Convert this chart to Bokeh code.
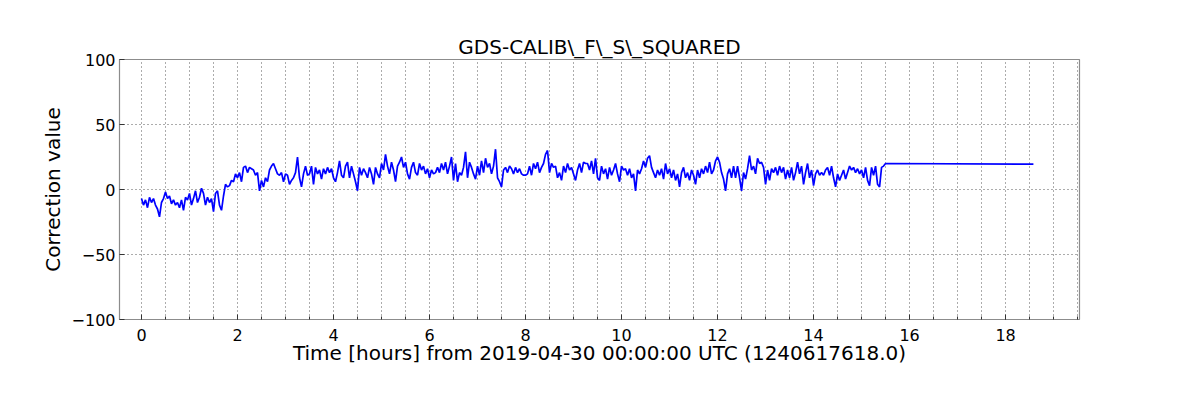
from bokeh.plotting import figure
from bokeh.models import Range1d, FixedTicker, Title
from bokeh.embed import file_html
from bokeh.resources import INLINE

# ---- data ----
title_text = "GDS-CALIB\\_F\\_S\\_SQUARED"
x_label = "Time [hours] from 2019-04-30 00:00:00 UTC (1240617618.0)"
y_label = "Correction value"
sample_step_hours = 1.0 / 24.0
hold_end_hours = 18.58
hold_value = 19.5

seg_0_3 = [-7, -12, -8, -14, -6, -10, -7, -12, -15, -21, -10, -7, -2, -7, -5, -11,
           -8, -12, -10, -14, -8, -16, -6, -8, -3, -12, -7, -1, -10, -6, 1, -3,
           -12, -6, -10, -7, -17, -3, -1, -12, -16, -5, 4, 2, 3, 7, 6, 12,
           9, 13, 6, 17, 18, 13, 17, 16, 15, 11, 13, -1, 7, 2, 9, 6,
           15, 18, 20, 16, 12, 11, 13, 6, 12]
seg_3_6 = [11, 4, 7, 9, 13, 25, 9, 2, 12, 18, 11, 12, 18, 4, 17, 12,
           15, 8, 16, 12, 17, 13, 16, 9, 6, 13, 22, 11, 9, 18, 21, 9,
           18, 12, 6, -1, 17, 11, 16, 13, 9, 17, 12, 4, 17, 12, 9, 20,
           15, 27, 18, 12, 21, 15, 6, 18, 21, 25, 17, 21, 12, 8, 17, 21,
           13, 11, 20, 15, 18, 12, 16, 9, 15, 12, 13]
seg_6_9 = [17, 13, 20, 15, 21, 12, 18, 25, 7, 20, 6, 13, 11, 17, 29, 9,
           21, 17, 12, 8, 18, 11, 22, 13, 24, 17, 20, 12, 18, 31, 9, 6,
           2, 15, 17, 13, 18, 16, 12, 17, 13, 16, 12, 11, 11, 12, 18, 11,
           20, 16, 21, 13, 17, 20, 27, 30, 13, 20, 17, 18, 9, 13, 7, 18,
           13, 20, 15, 17, 12, 7, 15, 20, 13, 21, 20]
seg_9_12 = [20, 15, 22, 12, 24, 9, 7, 18, 12, 16, 8, 17, 11, 15, 20, 12,
            6, 18, 15, 16, 11, 16, 9, 12, -1, 15, 12, 16, 22, 17, 24, 26,
            17, 13, 9, 15, 11, 16, 8, 20, 12, 16, 9, 15, 7, 12, 2, 13,
            17, 9, 13, 7, 15, 11, 4, 15, 9, 16, 12, 18, 13, 21, 12, 15,
            22, 25, 21, 13, 8, -1, 12, 16, 9, 18, 9]
seg_12_15 = [18, 9, -1, 13, 8, 16, 26, 15, 18, 12, 24, 20, 21, 17, 4, 15,
             7, 16, 13, 17, 11, 18, 13, 17, 8, 15, 9, 17, 7, 13, 21, 12,
             18, 4, 13, 20, 9, 15, 3, 12, 15, 11, 13, 11, 15, 17, 11, 18,
             9, 2, 12, 7, 11, 15, 8, 13, 18, 15, 17, 13, 16, 12, 15, 9,
             17, 7, 3, 17, 11, 18, 4, 2, 17, 18, 20]

values = seg_0_3 + seg_3_6 + seg_6_9 + seg_9_12 + seg_12_15
hours = [i * sample_step_hours for i in range(len(values))]
hours.append(hold_end_hours)
values.append(hold_value)

x_major = [0, 2, 4, 6, 8, 10, 12, 14, 16, 18]
x_minor = [i * 0.5 for i in range(0, 40)]
y_major = [-100, -50, 0, 50, 100]

FONT = "DejaVu Sans"
GRAY = "#8c8c8c"

p = figure(width=1184, height=384, output_backend="svg", toolbar_location=None,
           x_range=Range1d(-0.458, 19.54), y_range=Range1d(-100, 100),
           min_border_left=119, min_border_right=105, min_border_top=59,
           min_border_bottom=65)
p.title = Title(text=title_text, align="center", text_font=FONT,
                text_font_size="20px", text_font_style="normal",
                text_color="black", offset=0, standoff=2)

p.line(hours, values, line_color="#0000ff", line_width=1.7)

p.outline_line_color = GRAY
p.outline_line_width = 1.2
p.background_fill_color = "white"
p.border_fill_color = "white"

p.xaxis.ticker = FixedTicker(ticks=x_major, minor_ticks=x_minor)
p.yaxis.ticker = FixedTicker(ticks=y_major, minor_ticks=[])

for ax in (p.xaxis[0], p.yaxis[0]):
    ax.axis_line_color = GRAY
    ax.major_tick_in = 5
    ax.major_tick_out = 0
    ax.minor_tick_in = 3
    ax.minor_tick_out = 0
    ax.major_tick_line_color = "#333333"
    ax.minor_tick_line_color = "#333333"
    ax.major_label_text_font = FONT
    ax.major_label_text_font_size = "16px"
    ax.major_label_text_color = "black"
    ax.axis_label_text_font = FONT
    ax.axis_label_text_font_size = "20px"
    ax.axis_label_text_font_style = "normal"
    ax.axis_label_text_color = "black"

p.xaxis.axis_label = x_label
p.yaxis.axis_label = y_label
p.xaxis.major_label_standoff = 9
p.yaxis.major_label_standoff = 4
p.xaxis.axis_label_standoff = -3
p.yaxis.axis_label_standoff = 4

p.xgrid.ticker = FixedTicker(ticks=x_minor)
p.ygrid.ticker = FixedTicker(ticks=y_major)
for g in (p.xgrid[0], p.ygrid[0]):
    g.grid_line_color = "black"
    g.grid_line_alpha = 0.65
    g.grid_line_dash = "1 3"
    g.grid_line_width = 1

open("out.html", "w").write(file_html(p, INLINE))
